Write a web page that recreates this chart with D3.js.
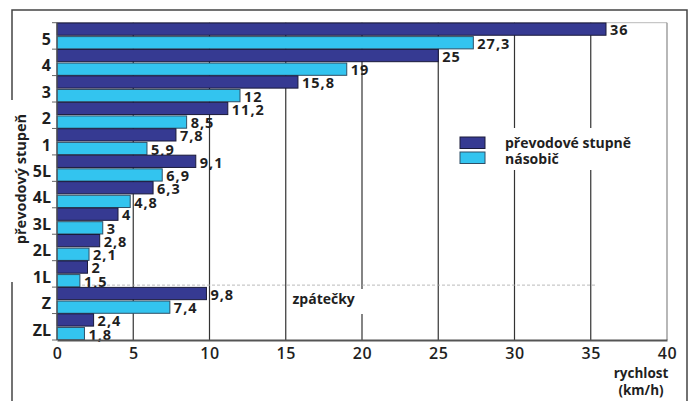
<!DOCTYPE html>
<html><head><meta charset="utf-8">
<script src="https://cdn.jsdelivr.net/npm/d3@7"></script>
<style>body{margin:0;background:#fff}svg{display:block}text{font-family:"Open Sans",sans-serif;fill:#1f1f1f}</style>
</head><body>
<svg id="c" width="690" height="401"></svg>
<script>
const categories = ["5","4","3","2","1","5L","4L","3L","2L","1L","Z","ZL"];
const seriesNames = ["převodové stupně","násobič"];
const gears = [36,25,15.8,11.2,7.8,9.1,6.3,4,2.8,2,9.8,2.4];
const multiplier = [27.3,19,12,8.5,5.9,6.9,4.8,3,2.1,1.5,7.4,1.8];
const xTicks = [0,5,10,15,20,25,30,35,40];
const colors = ["#363a92","#33c4ef"];

const svg = d3.select("#c");
const m = {l:57, r:667, t:22.7, b:340};
const x = d3.scaleLinear().domain([0,40]).range([m.l, m.r]);
const y0 = d3.scaleBand().domain(categories).range([m.t, m.b]).padding(0);
const y1 = d3.scaleBand().domain(seriesNames).range([0, y0.bandwidth()]).paddingInner(0.1).paddingOuter(0.02);
const fmt = v => String(v).replace(".", ",");

// outer frame
const fr = svg.append("g").attr("stroke","#444").attr("stroke-width",1.5).attr("fill","none");
fr.append("path").attr("d","M12,100 V10 H687 V401");
fr.append("path").attr("d","M12,282 V401");

// plot top line
svg.append("line").attr("x1",m.l).attr("x2",m.r).attr("y1",m.t).attr("y2",m.t).attr("stroke","#bbb").attr("stroke-width",1);

// gridlines
svg.append("g").selectAll("line").data(xTicks.filter(d=>d>0)).join("line")
  .attr("x1",d=>x(d)).attr("x2",d=>x(d)).attr("y1",m.t).attr("y2",m.b)
  .attr("stroke",d=>d===40?"#888":"#333").attr("stroke-width",1.2);

// dashed separator between forward and reverse
const sepY = y0("Z") - 2;
svg.append("line").attr("x1",m.l).attr("x2",x(35.3)).attr("y1",sepY).attr("y2",sepY)
  .attr("stroke","#aaa").attr("stroke-width",0.8).attr("stroke-dasharray","3,2");

// bars
const rows = categories.map((c,i)=>({c, vals:[gears[i], multiplier[i]]}));
const g = svg.append("g").selectAll("g").data(rows).join("g").attr("transform",d=>`translate(0,${y0(d.c)})`);
g.selectAll("rect").data(d=>d.vals.map((v,j)=>({v, s:seriesNames[j], j}))).join("rect")
  .attr("x",x(0)).attr("y",d=>y1(d.s)).attr("width",d=>x(d.v)-x(0)).attr("height",y1.bandwidth())
  .attr("fill",d=>colors[d.j]).attr("stroke",d=>d.j===0?"#1a1a3a":"#2f4f66").attr("stroke-width",1);
g.selectAll("text").data(d=>d.vals.map((v,j)=>({v, s:seriesNames[j], j}))).join("text")
  .attr("x",d=>x(d.v)+4).attr("y",d=>y1(d.s)+y1.bandwidth()/2+1).attr("dy","0.36em")
  .attr("font-size",14.5).attr("font-weight",700).attr("letter-spacing",1).text(d=>fmt(d.v));

// y axis
const yAxis = d3.axisLeft(y0).tickSize(0).tickPadding(6);
const ya = svg.append("g").attr("transform",`translate(${m.l},0)`).call(yAxis);
ya.select(".domain").remove();
ya.selectAll("text").attr("font-size",16).attr("font-weight",700).attr("font-family","Open Sans").attr("fill","#1f1f1f")
  .attr("dy","0.55em");
// tick marks at band boundaries
svg.append("g").selectAll("line").data(categories.concat(["_end"])).join("line")
  .attr("x1",m.l-5).attr("x2",m.l).attr("y1",(d,i)=>m.t+i*y0.bandwidth()).attr("y2",(d,i)=>m.t+i*y0.bandwidth())
  .attr("stroke","#666").attr("stroke-width",1);
svg.append("line").attr("x1",m.l).attr("x2",m.l).attr("y1",m.t).attr("y2",m.b).attr("stroke","#555").attr("stroke-width",1.2);

// x axis
const xAxis = d3.axisBottom(x).tickValues(xTicks).tickSize(0).tickPadding(8);
const xa = svg.append("g").attr("transform",`translate(0,${m.b})`).call(xAxis);
xa.select(".domain").attr("stroke","#555").attr("stroke-width",1.8);
xa.selectAll("text").attr("font-size",16).attr("font-weight",600).attr("font-family","Open Sans").attr("fill","#1f1f1f").attr("letter-spacing",0.5);

svg.append("text").attr("x",641).attr("y",378).attr("text-anchor","middle").attr("font-size",13.5).attr("font-weight",700).text("rychlost");
svg.append("text").attr("x",641).attr("y",395).attr("text-anchor","middle").attr("font-size",13.5).attr("font-weight",700).text("(km/h)");

// y title
svg.append("text").attr("transform","translate(26,179) rotate(-90)").attr("text-anchor","middle")
  .attr("font-size",14.5).attr("font-weight",700).text("převodový stupeň");

// legend
const lg = svg.append("g");
lg.append("rect").attr("x",452).attr("y",128).attr("width",205).attr("height",42).attr("fill","#fff");
seriesNames.forEach((s,i)=>{
  lg.append("rect").attr("x",460).attr("y",137+i*15).attr("width",25).attr("height",11.5)
    .attr("fill",colors[i]).attr("stroke",i===0?"#1a1a3a":"#2f4f66").attr("stroke-width",1);
  lg.append("text").attr("x",505).attr("y",142.5+i*16).attr("dy","0.36em").attr("font-size",14).attr("font-weight",700).text(s);
});

// reverse label
svg.append("rect").attr("x",290).attr("y",289).attr("width",80).attr("height",25).attr("fill","#fff");
svg.append("text").attr("x",292.5).attr("y",298.5).attr("dy","0.36em").attr("font-size",14).attr("font-weight",700).text("zpátečky");
</script>
</body></html>
